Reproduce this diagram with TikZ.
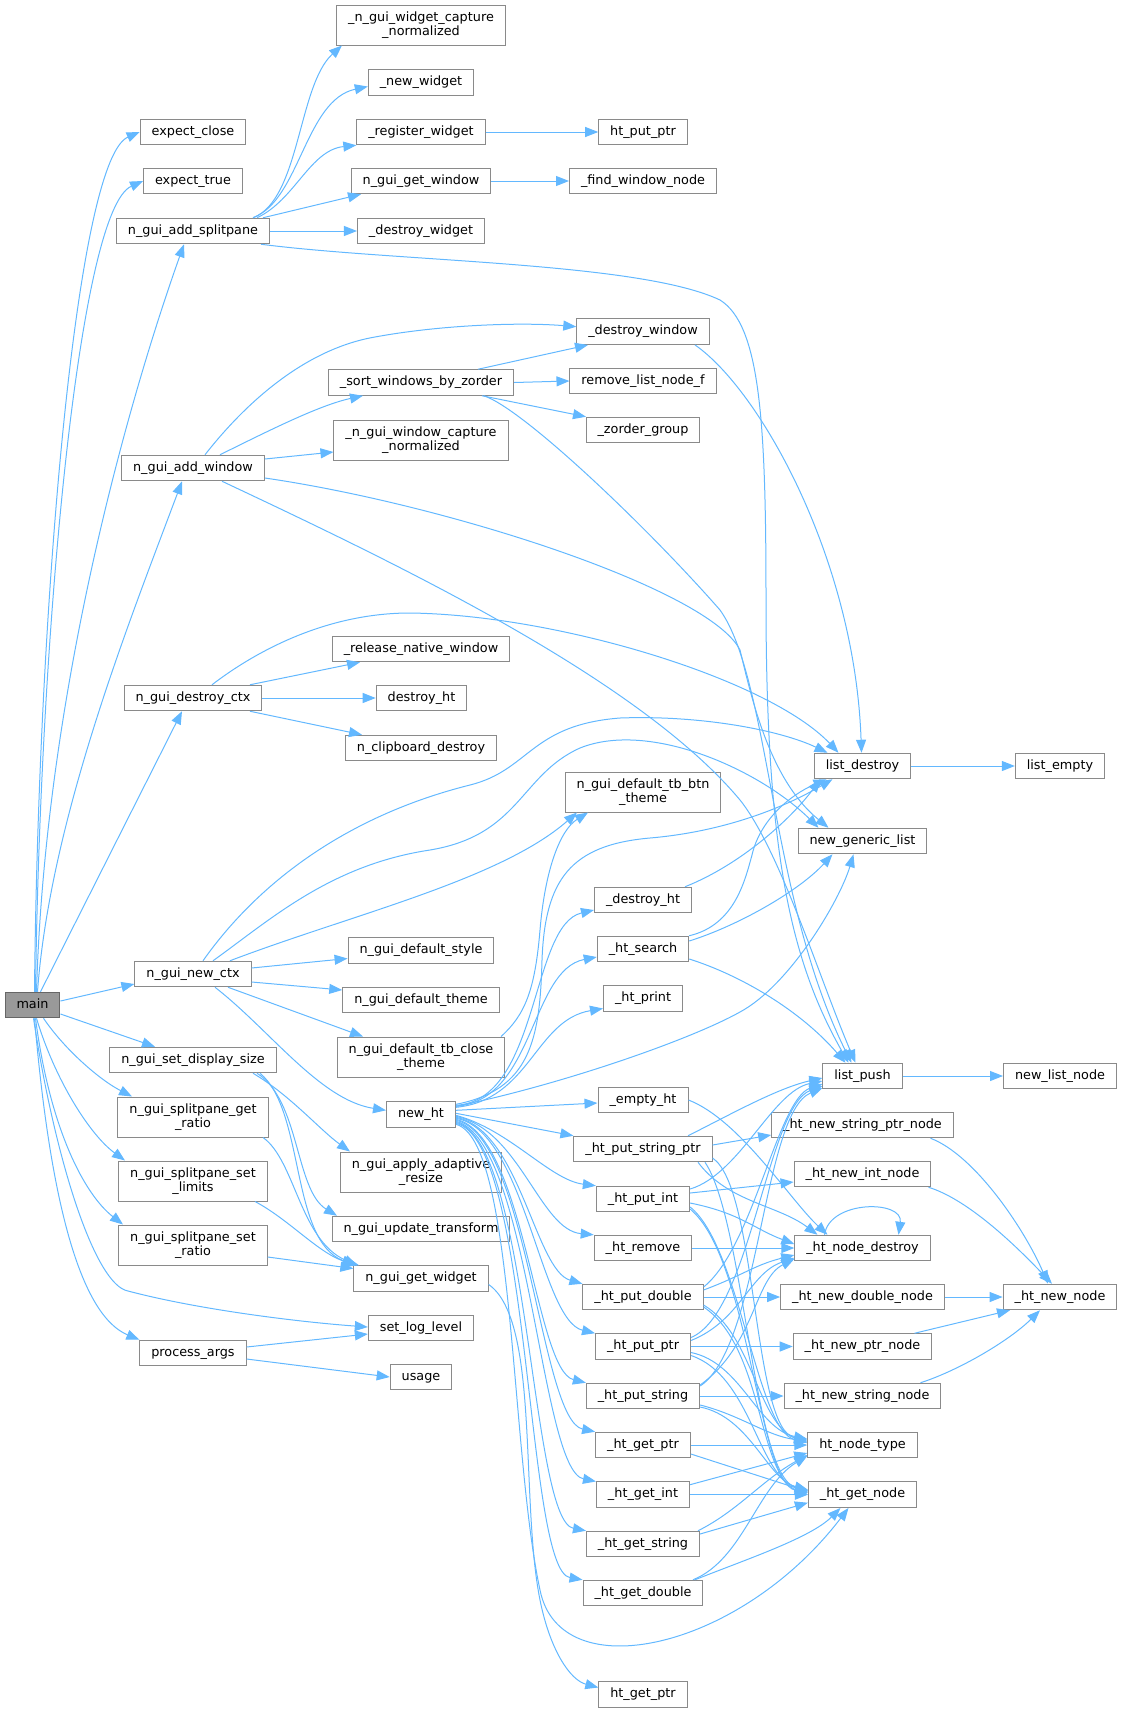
\documentclass[tikz,border=0pt]{standalone}
\usepackage{fontspec}
\setmainfont{DejaVu Sans}
\usetikzlibrary{arrows.meta}
\definecolor{callblue}{HTML}{63B8FF}
\definecolor{boxgrey}{HTML}{8A8A8A}
\definecolor{rootgrey}{HTML}{999999}
\definecolor{rootedge}{HTML}{666666}
\newcommand{\callfont}{\fontsize{12.8}{14.7}\selectfont}

\begin{document}
\begin{tikzpicture}[x=1pt,y=-1pt,
  box/.style={draw=boxgrey,line width=1pt,fill=white,font=\callfont,inner xsep=11.5pt,inner ysep=0pt},
  fn/.style={box,minimum height=25.5pt,text height=9.2pt,text depth=2.8pt},
  fntwo/.style={box,minimum height=40pt,align=center},
  root/.style={fn,fill=rootgrey,draw=rootedge},
  call/.style={draw=callblue,line width=1pt,-{Triangle[length=13pt,width=10pt]}}]
\useasboundingbox (0,0) rectangle (1123,1713);
% Callers
  \node[root] (main) at (32.5,1005) {main};
  \node[fn] (expclose) at (193,132) {expect\_close};
  \node[fn] (exptrue) at (193,181) {expect\_true};
  \node[fn] (addsplit) at (193,231) {n\_gui\_add\_splitpane};
  \node[fn] (addwin) at (193,468) {n\_gui\_add\_window};
  \node[fn] (destroyctx) at (193,698) {n\_gui\_destroy\_ctx};
  \node[fn] (newctx) at (193,974) {n\_gui\_new\_ctx};
  \node[fn] (setdisp) at (193,1060) {n\_gui\_set\_display\_size};
  \node[fntwo] (getratio) at (193,1117) {n\_gui\_splitpane\_get\\\_ratio};
  \node[fntwo] (setlimits) at (193,1181) {n\_gui\_splitpane\_set\\\_limits};
  \node[fntwo] (setratio) at (193,1245) {n\_gui\_splitpane\_set\\\_ratio};
  \node[fn] (procargs) at (193,1353) {process\_args};
% Second column
  \node[fntwo] (wcapture) at (421,25) {\_n\_gui\_widget\_capture\\\_normalized};
  \node[fn] (newwidget) at (421,82.5) {\_new\_widget};
  \node[fn] (regwidget) at (421,132) {\_register\_widget};
  \node[fn] (getwindow) at (421,181) {n\_gui\_get\_window};
  \node[fn] (destroywidget) at (421,231) {\_destroy\_widget};
  \node[fn] (sortwin) at (421,382.5) {\_sort\_windows\_by\_zorder};
  \node[fntwo] (wincapture) at (421,440) {\_n\_gui\_window\_capture\\\_normalized};
  \node[fn] (release) at (421,649) {\_release\_native\_window};
  \node[fn] (destroyht) at (421.5,698) {destroy\_ht};
  \node[fn] (clipboard) at (421,748) {n\_clipboard\_destroy};
  \node[fn] (defstyle) at (421,950.5) {n\_gui\_default\_style};
  \node[fn] (deftheme) at (421,1000) {n\_gui\_default\_theme};
  \node[fntwo] (defclose) at (421,1057) {n\_gui\_default\_tb\_close\\\_theme};
  \node[fn] (newht) at (421,1114.3) {new\_ht};
  \node[fntwo] (adaptive) at (421,1172) {n\_gui\_apply\_adaptive\\\_resize};
  \node[fn] (updtrans) at (421,1229) {n\_gui\_update\_transform};
  \node[fn] (getwidget) at (421,1278.5) {n\_gui\_get\_widget};
  \node[fn] (setlog) at (421,1328) {set\_log\_level};
  \node[fn] (usage) at (421,1377) {usage};
% Third column
  \node[fn] (htputptr) at (643,132) {ht\_put\_ptr};
  \node[fn] (findwin) at (643,181) {\_find\_window\_node};
  \node[fn] (destroywin) at (643,331.7) {\_destroy\_window};
  \node[fn] (removelist) at (643,381) {remove\_list\_node\_f};
  \node[fn] (zorder) at (643,430) {\_zorder\_group};
  \node[fntwo] (defbtn) at (643,792) {n\_gui\_default\_tb\_btn\\\_theme};
  \node[fn] (htdestroy) at (643,900) {\_destroy\_ht};
  \node[fn] (htsearch) at (643,949) {\_ht\_search};
  \node[fn] (htprint) at (643,998.5) {\_ht\_print};
  \node[fn] (emptyht) at (643,1100) {\_empty\_ht};
  \node[fn] (putstrptr) at (643,1149) {\_ht\_put\_string\_ptr};
  \node[fn] (putint) at (643,1199) {\_ht\_put\_int};
  \node[fn] (htremove) at (643,1248) {\_ht\_remove};
  \node[fn] (putdouble) at (643,1297) {\_ht\_put\_double};
  \node[fn] (putptr) at (643,1346.5) {\_ht\_put\_ptr};
  \node[fn] (putstring) at (643,1396) {\_ht\_put\_string};
  \node[fn] (getptr) at (643,1445) {\_ht\_get\_ptr};
  \node[fn] (getint) at (643,1494.7) {\_ht\_get\_int};
  \node[fn] (getstring) at (643,1544) {\_ht\_get\_string};
  \node[fn] (getdouble) at (643,1593) {\_ht\_get\_double};
  \node[fn] (htgetptr) at (643,1694.5) {ht\_get\_ptr};
% Fourth and fifth column
  \node[fn] (listdestroy) at (862.5,766) {list\_destroy};
  \node[fn] (newgeneric) at (862.5,841) {new\_generic\_list};
  \node[fn] (listpush) at (862.5,1076) {list\_push};
  \node[fn] (newstrptrnode) at (862.5,1125) {\_ht\_new\_string\_ptr\_node};
  \node[fn] (newintnode) at (862.5,1174) {\_ht\_new\_int\_node};
  \node[fn] (nodedestroy) at (862.5,1248) {\_ht\_node\_destroy};
  \node[fn] (newdoublenode) at (862.5,1297) {\_ht\_new\_double\_node};
  \node[fn] (newptrnode) at (862.5,1346.5) {\_ht\_new\_ptr\_node};
  \node[fn] (newstringnode) at (862.5,1396) {\_ht\_new\_string\_node};
  \node[fn] (nodetype) at (862.5,1445) {ht\_node\_type};
  \node[fn] (getnode) at (862.5,1494.7) {\_ht\_get\_node};
  \node[fn] (listempty) at (1060,766) {list\_empty};
  \node[fn] (newlistnode) at (1060,1076) {new\_list\_node};
  \node[fn] (newnode) at (1060,1297) {\_ht\_new\_node};
% main
  \draw[call] ([xshift=2pt]main.north) .. controls (38,620) and (75,160) .. (expclose.west);
  \draw[call] ([xshift=3pt]main.north) .. controls (40,640) and (78,210) .. (exptrue.west);
  \draw[call] ([xshift=4pt]main.north) .. controls (45,700) and (125,410) .. ([xshift=-9pt]addsplit.south);
  \draw[call] ([xshift=5pt]main.north) .. controls (50,820) and (130,620) .. ([xshift=-11pt]addwin.south);
  \draw[call] ([xshift=8pt]main.north) -- ([xshift=-11pt]destroyctx.south);
  \draw[call] ([yshift=4pt]main.east) -- ([yshift=-10pt]newctx.west);
  \draw[call] ([yshift=-9pt]main.east) -- ([xshift=-38pt]setdisp.north);
  \draw[call] ([xshift=11pt]main.south) .. controls (65,1050) and (100,1080) .. ([xshift=-61pt]getratio.north);
  \draw[call] ([xshift=4pt]main.south) .. controls (55,1080) and (90,1135) .. ([xshift=-68pt]setlimits.north);
  \draw[call] ([xshift=3pt]main.south) .. controls (50,1130) and (85,1195) .. ([xshift=-70pt]setratio.north);
  \draw[call] ([xshift=1pt]main.south) .. controls (55,1160) and (95,1285) .. (128,1291) .. controls (200,1310) and (300,1322) .. ([yshift=1pt]setlog.west);
  \draw[call] ([xshift=2pt]main.south) .. controls (50,1200) and (80,1315) .. (procargs.north west);
% n_gui_add_splitpane
  \draw[call] ([xshift=60pt]addsplit.north) .. controls (300,200) and (298,85) .. ([xshift=-79pt]wcapture.south);
  \draw[call] ([xshift=60pt]addsplit.north) .. controls (300,200) and (305,100) .. ([yshift=-4pt]newwidget.west);
  \draw[call] ([xshift=64pt]addsplit.north) .. controls (295,200) and (310,150) .. (regwidget.south west);
  \draw[call] ([xshift=70pt]addsplit.north) -- ([xshift=-60pt]getwindow.south);
  \draw[call] (addsplit.east) -- (destroywidget.west);
  \draw[call] ([xshift=68pt]addsplit.south) .. controls (400,262) and (640,262) .. (720,300) .. controls (760,325) and (766,420) .. (766,600) .. controls (766,850) and (790,960) .. ([xshift=-14pt]listpush.north);
  \draw[call] (regwidget.east) -- (htputptr.west);
  \draw[call] (getwindow.east) -- (findwin.west);
% n_gui_add_window
  \draw[call] ([xshift=12pt]addwin.north) .. controls (240,410) and (300,350) .. (375,337) .. controls (440,325) and (520,322) .. ([yshift=5pt]destroywin.west);
  \draw[call] ([xshift=27pt]addwin.north) .. controls (270,430) and (320,405) .. ([xshift=-58pt]sortwin.south);
  \draw[call] ([yshift=9pt]addwin.east) -- ([yshift=-12pt]wincapture.west);
  \draw[call] ([yshift=-10pt]addwin.east) .. controls (450,505) and (710,590) .. (740,650) .. controls (752,700) and (770,780) .. ([xshift=-34pt]newgeneric.north);
  \draw[call] ([xshift=29pt]addwin.south) .. controls (400,565) and (640,680) .. (740,800) .. controls (780,850) and (820,980) .. ([xshift=-7pt]listpush.north);
  \draw[call] ([xshift=57pt]sortwin.north) -- ([xshift=-55pt]destroywin.south);
  \draw[call] (sortwin.east) -- (removelist.west);
  \draw[call] ([xshift=61pt]sortwin.south) -- ([xshift=-57pt]zorder.north);
  \draw[call] ([xshift=63pt]sortwin.south) .. controls (525,410) and (650,530) .. (720,610) .. controls (770,680) and (770,900) .. ([xshift=-11pt]listpush.north);
  \draw[call] ([xshift=52pt]destroywin.south) .. controls (760,390) and (855,560) .. ([xshift=-1pt]listdestroy.north);
% n_gui_destroy_ctx
  \draw[call] ([xshift=57pt]destroyctx.north) -- ([xshift=-61pt]release.south);
  \draw[call] (destroyctx.east) -- (destroyht.west);
  \draw[call] ([xshift=57pt]destroyctx.south) -- ([xshift=-59pt]clipboard.north);
  \draw[call] ([xshift=19pt]destroyctx.north) .. controls (260,648) and (330,613) .. (410,613) .. controls (560,615) and (770,680) .. ([xshift=-24pt]listdestroy.north);
% n_gui_new_ctx
  \draw[call] ([xshift=10pt]newctx.north) .. controls (260,880) and (350,815) .. (470,785) .. controls (530,770) and (530,725) .. (620,718) .. controls (700,715) and (780,730) .. ([xshift=-35pt]listdestroy.north);
  \draw[call] ([xshift=20pt]newctx.north) .. controls (270,920) and (330,865) .. (430,850) .. controls (520,835) and (520,775) .. (580,748) .. controls (650,720) and (760,770) .. ([xshift=-44pt]newgeneric.north);
  \draw[call] ([xshift=37pt]newctx.north) .. controls (350,915) and (500,880) .. ([xshift=-66pt]defbtn.south);
  \draw[call] ([yshift=6pt]newctx.east) -- ([yshift=-8pt]defstyle.west);
  \draw[call] ([yshift=-8pt]newctx.east) -- ([yshift=10pt]deftheme.west);
  \draw[call] ([xshift=35pt]newctx.south) -- ([xshift=-58pt]defclose.north);
  \draw[call] ([xshift=22pt]newctx.south) .. controls (270,1030) and (320,1100) .. ([yshift=4pt]newht.west);
  \draw[call] ([xshift=80pt]defclose.north) .. controls (525,1015) and (535,990) .. (540,930) .. controls (545,870) and (560,830) .. ([xshift=-55pt]defbtn.south);
% n_gui_set_display_size and splitpane setters
  \draw[call] ([xshift=60pt]setdisp.south) .. controls (290,1095) and (320,1130) .. ([xshift=-71pt]adaptive.north);
  \draw[call] ([xshift=64pt]setdisp.south) .. controls (300,1100) and (295,1190) .. ([xshift=-84pt]updtrans.north);
  \draw[call] ([xshift=67pt]setdisp.south) .. controls (305,1110) and (290,1240) .. ([xshift=-66pt]getwidget.north);
  \draw[call] ([xshift=70pt]getratio.south) .. controls (295,1160) and (300,1240) .. ([xshift=-64pt]getwidget.north);
  \draw[call] ([xshift=62pt]setlimits.south) .. controls (290,1220) and (320,1255) .. ([xshift=-62pt]getwidget.north);
  \draw[call] ([yshift=-12pt]setratio.east) -- ([yshift=10pt]getwidget.west);
  \draw[call] ([yshift=6pt]procargs.east) -- ([yshift=-6pt]setlog.west);
  \draw[call] ([yshift=-6pt]procargs.east) -- (usage.west);
  \draw[call] ([yshift=-6pt]getwidget.east) .. controls (540,1320) and (520,1500) .. (540,1600) .. controls (550,1650) and (570,1680) .. ([yshift=7pt]htgetptr.west);
% new_ht
  \draw[call] ([yshift=10pt]newht.east) .. controls (530,1090) and (540,1040) .. (542,960) .. controls (545,880) and (570,845) .. (650,838) .. controls (720,832) and (780,810) .. ([xshift=-30pt]listdestroy.south);
  \draw[call] ([yshift=9pt]newht.east) .. controls (540,1100) and (530,925) .. ([yshift=-10pt]htdestroy.west);
  \draw[call] ([yshift=8pt]newht.east) .. controls (535,1100) and (530,970) .. ([yshift=-8pt]htsearch.west);
  \draw[call] ([yshift=7pt]newht.east) .. controls (530,1100) and (535,1020) .. ([yshift=-10pt]htprint.west);
  \draw[call] ([yshift=8pt]newht.east) .. controls (560,1085) and (690,1040) .. (740,1012) .. controls (790,985) and (840,900) .. ([xshift=-9pt]newgeneric.south);
  \draw[call] ([yshift=4pt]newht.east) -- ([yshift=-3pt]emptyht.west);
  \draw[call] ([yshift=1pt]newht.east) -- (putstrptr.north west);
  \draw[call] ([yshift=-1pt]newht.east) .. controls (510,1130) and (550,1180) .. (putint.north west);
  \draw[call] ([yshift=-2pt]newht.east) .. controls (520,1130) and (540,1230) .. (htremove.north west);
  \draw[call] ([yshift=-3pt]newht.east) .. controls (520,1130) and (535,1270) .. (putdouble.north west);
  \draw[call] ([yshift=-4pt]newht.east) .. controls (525,1130) and (540,1320) .. (putptr.north west);
  \draw[call] ([yshift=-5pt]newht.east) .. controls (525,1135) and (535,1370) .. (putstring.north west);
  \draw[call] ([yshift=-6pt]newht.east) .. controls (528,1135) and (540,1420) .. (getptr.north west);
  \draw[call] ([yshift=-7pt]newht.east) .. controls (530,1140) and (540,1470) .. (getint.north west);
  \draw[call] ([yshift=-8pt]newht.east) .. controls (530,1140) and (530,1520) .. (getstring.north west);
  \draw[call] ([yshift=-9pt]newht.east) .. controls (532,1140) and (525,1570) .. (getdouble.north west);
  \draw[call] ([yshift=-10pt]newht.east) .. controls (515,1140) and (510,1450) .. (540,1590) .. controls (560,1690) and (740,1650) .. ([xshift=-14pt]getnode.south);
% _destroy_ht, _ht_search, _empty_ht
  \draw[call] ([xshift=42pt]htdestroy.north) .. controls (740,865) and (790,820) .. ([xshift=-42pt]listdestroy.south);
  \draw[call] (htsearch.north east) .. controls (735,925) and (745,880) .. (752,855) .. controls (760,820) and (790,795) .. ([xshift=-36pt]listdestroy.south);
  \draw[call] ([yshift=8pt]htsearch.east) .. controls (740,925) and (800,890) .. ([xshift=-30pt]newgeneric.south);
  \draw[call] ([yshift=-10pt]htsearch.east) .. controls (740,975) and (800,1010) .. ([xshift=-17pt]listpush.north);
  \draw[call] (emptyht.east) .. controls (740,1120) and (790,1200) .. ([xshift=-35pt]nodedestroy.north);
% _ht_put_string_ptr
  \draw[call] ([xshift=45pt]putstrptr.north) .. controls +(40,-20) and +(-45,10) .. ([yshift=-2pt]listpush.west);
  \draw[call] ([yshift=4pt]putstrptr.east) -- ([yshift=-10pt]newstrptrnode.west);
  \draw[call] ([xshift=55pt]putstrptr.south) .. controls +(30,40) and +(-40,-30) .. ([xshift=-45pt]nodedestroy.north);
  \draw[call] ([yshift=-9pt]putstrptr.east) .. controls +(45,30) and +(-55,-10) .. ([yshift=5pt]nodetype.west);
  \draw[call] ([xshift=62pt]putstrptr.south) .. controls +(40,60) and +(-55,-15) .. ([yshift=4pt]getnode.west);
% _ht_put_int
  \draw[call] ([yshift=10pt]putint.east) .. controls +(50,-15) and +(-50,10) .. ([yshift=-5pt]listpush.west);
  \draw[call] ([yshift=6pt]putint.east) -- ([yshift=-8pt]newintnode.west);
  \draw[call] ([yshift=-4pt]putint.east) .. controls +(50,10) and +(-40,-15) .. ([yshift=4pt]nodedestroy.west);
  \draw[call] ([yshift=-8pt]putint.east) .. controls +(50,40) and +(-50,-10) .. ([yshift=3pt]nodetype.west);
  \draw[call] ([yshift=-10pt]putint.east) .. controls +(60,50) and +(-50,-10) .. ([yshift=2pt]getnode.west);
  \draw[call] (htremove.east) -- (nodedestroy.west);
% _ht_put_double
  \draw[call] ([yshift=10pt]putdouble.east) .. controls +(50,-40) and +(-45,15) .. ([yshift=-8pt]listpush.west);
  \draw[call] (putdouble.east) -- (newdoublenode.west);
  \draw[call] ([yshift=7pt]putdouble.east) .. controls +(40,-15) and +(-40,10) .. ([yshift=-7pt]nodedestroy.west);
  \draw[call] ([yshift=-8pt]putdouble.east) .. controls +(50,30) and +(-50,-20) .. ([yshift=2pt]nodetype.west);
  \draw[call] ([yshift=-10pt]putdouble.east) .. controls +(60,40) and +(-50,-20) .. (getnode.west);
% _ht_put_ptr
  \draw[call] ([yshift=9pt]putptr.east) .. controls +(60,-25) and +(-55,20) .. ([yshift=-10pt]listpush.west);
  \draw[call] (putptr.east) -- (newptrnode.west);
  \draw[call] ([yshift=6pt]putptr.east) .. controls +(50,-20) and +(-45,15) .. ([yshift=-10pt]nodedestroy.west);
  \draw[call] ([yshift=-6pt]putptr.east) .. controls +(50,10) and +(-50,-10) .. ([yshift=6pt]nodetype.west);
  \draw[call] ([yshift=-9pt]putptr.east) .. controls +(60,20) and +(-50,-15) .. ([yshift=4pt]getnode.west);
% _ht_put_string
  \draw[call] ([yshift=10pt]putstring.east) .. controls +(60,-40) and +(-60,25) .. ([yshift=-12pt]listpush.west);
  \draw[call] (putstring.east) -- (newstringnode.west);
  \draw[call] ([yshift=11pt]putstring.east) .. controls +(55,-40) and +(-40,20) .. ([yshift=-11pt]nodedestroy.west);
  \draw[call] ([yshift=-9pt]putstring.east) .. controls +(40,10) and +(-40,-5) .. ([yshift=4pt]nodetype.west);
  \draw[call] ([yshift=-11pt]putstring.east) .. controls +(50,10) and +(-40,-10) .. ([yshift=5pt]getnode.west);
% getters
  \draw[call] (getptr.east) -- (nodetype.west);
  \draw[call] ([yshift=-9pt]getptr.east) -- ([yshift=3pt]getnode.west);
  \draw[call] ([yshift=10pt]getint.east) -- ([yshift=-8pt]nodetype.west);
  \draw[call] (getint.east) -- (getnode.west);
  \draw[call] ([xshift=55pt]getstring.north) .. controls +(40,-20) and +(-45,25) .. ([yshift=-10pt]nodetype.west);
  \draw[call] ([yshift=10pt]getstring.east) -- ([yshift=-8pt]getnode.west);
  \draw[call] ([xshift=50pt]getdouble.north) .. controls +(50,-20) and +(-50,30) .. ([yshift=-11pt]nodetype.west);
  \draw[call] ([xshift=52pt]getdouble.north) .. controls +(50,-20) and +(-30,30) .. ([xshift=-22pt]getnode.south);
% leaves of the hash table
  \draw[call] ([xshift=-38pt]nodedestroy.north) .. controls +(5,-35) and +(5,-35) .. ([xshift=36pt]nodedestroy.north);
  \draw[call] ([xshift=68pt]newstrptrnode.south) .. controls (975,1155) and (1025,1230) .. ([xshift=-12pt]newnode.north);
  \draw[call] ([xshift=66pt]newintnode.south) .. controls (970,1200) and (1020,1250) .. ([xshift=-8pt]newnode.north);
  \draw[call] (newdoublenode.east) -- (newnode.west);
  \draw[call] ([xshift=52pt]newptrnode.north) -- ([xshift=-50pt]newnode.south);
  \draw[call] ([xshift=58pt]newstringnode.north) .. controls (960,1370) and (1010,1340) .. ([xshift=-20pt]newnode.south);
  \draw[call] (listdestroy.east) -- (listempty.west);
  \draw[call] (listpush.east) -- (newlistnode.west);
\end{tikzpicture}
\end{document}
